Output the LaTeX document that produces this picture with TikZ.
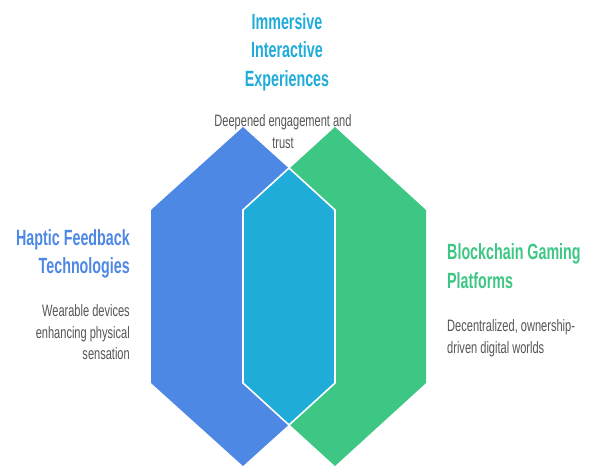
\documentclass[tikz,border=0pt]{standalone}
\usepackage{fontspec}
\setmainfont[FakeStretch=0.67]{Liberation Sans}
\newfontfamily\headfont[FakeStretch=0.65]{Liberation Sans}
\definecolor{hexblue}{HTML}{4E88E5}
\definecolor{hexgreen}{HTML}{3EC684}
\definecolor{hexcyan}{HTML}{20ACD9}
\definecolor{bodygray}{HTML}{555555}
\tikzset{
  title/.style={inner sep=0pt, font=\headfont\bfseries\fontsize{22}{28.5}\selectfont},
  desc/.style={inner sep=0pt, text=bodygray, font=\fontsize{16.5}{21.3}\selectfont},
}
\begin{document}
\begin{tikzpicture}[x=1pt,y=-1pt]
  \useasboundingbox (0,0) rectangle (592,466);
  % two overlapping hexagons
  \fill[hexblue]  (243,127) -- (335,210) -- (335,383) -- (243,466) -- (151,383) -- (151,210) -- cycle;
  \fill[hexgreen] (335,127) -- (426,210) -- (426,383) -- (335,466) -- (244,383) -- (244,210) -- cycle;
  % their intersection
  \filldraw[fill=hexcyan, draw=white, line width=1.6pt]
    (289,168) -- (335,210) -- (335,383) -- (289,425) -- (243,383) -- (243,210) -- cycle;

  % labels (anchored at the baseline of their last line)
  \node[title, text=hexcyan, align=center, anchor=base] (top) at (287,86)
    {Immersive\\Interactive\\Experiences};
  \node[desc, align=center, anchor=base] (topdesc) at (283,148)
    {Deepened engagement and\\trust};
  \node[title, text=hexblue, align=right, anchor=base east] (left) at (130,273.5)
    {Haptic Feedback\\Technologies};
  \node[desc, align=right, anchor=base east] (leftdesc) at (130,359.5)
    {Wearable devices\\enhancing physical\\sensation};
  \node[title, text=hexgreen, align=left, anchor=base west] (right) at (447,288)
    {Blockchain Gaming\\Platforms};
  \node[desc, align=left, anchor=base west] (rightdesc) at (447,353)
    {Decentralized, ownership-\\driven digital worlds};
\end{tikzpicture}
\end{document}
